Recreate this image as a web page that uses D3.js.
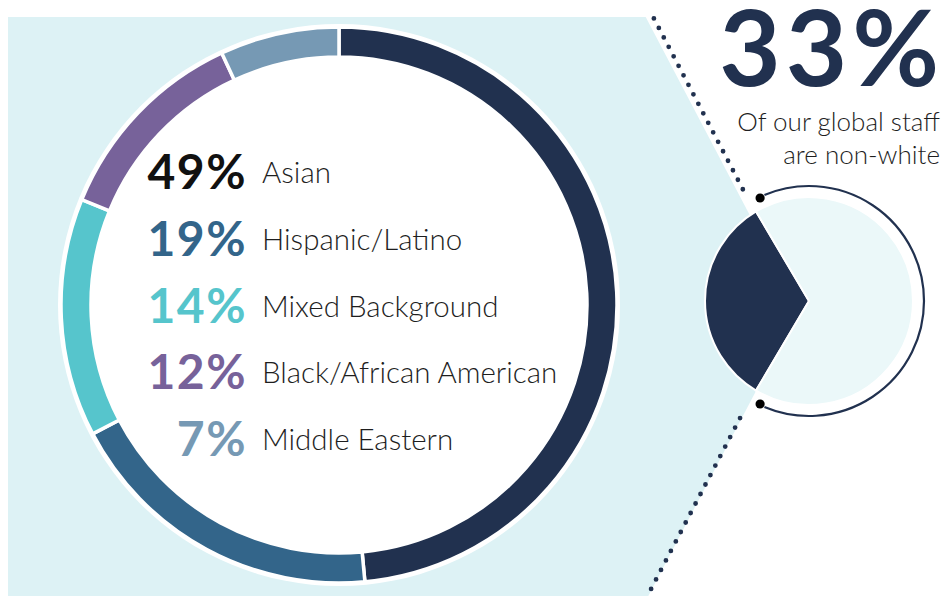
<!DOCTYPE html>
<html>
<head>
<meta charset="utf-8">
<script src="https://cdn.jsdelivr.net/npm/d3@7"></script>
<style>
  body { margin: 0; background: #fff; }
  svg { display: block; }
</style>
</head>
<body>
<svg id="chart" width="944" height="596"></svg>
<script>
// data
var groups = ["Asian", "Hispanic/Latino", "Mixed Background", "Black/African American", "Middle Eastern"];
var shares = [49, 19, 14, 12, 7];
var groupColors = ["#21314f", "#33658a", "#56c5cc", "#77629a", "#7699b4"];
var pctColors = ["#111111", "#33658a", "#56c5cc", "#77629a", "#7699b4"];

var staffParts = ["non-white", "other"];
var staffShares = [33, 67];
var staffColors = ["#21314f", "#ebf8f9"];
var captionLines = ["Of our global staff", "are non-white"];

var svg = d3.select("#chart");
var deg = Math.PI / 180;

// small pie (right)
var sx = 809, sy = 301, sr = 104;
var half = staffShares[0] / d3.sum(staffShares) * Math.PI; // half of the dark slice
var start = 1.5 * Math.PI - half;

// point on a ray, d3 angle convention (0 = up, clockwise)
function pt(cx, cy, a, r) { return [cx + r * Math.sin(a), cy - r * Math.cos(a)]; }

// light blue wedge behind the big donut
var tipX = sx - 10, tipY = sy + 8;
var aTop = 332.3 * deg, aBot = 207.7 * deg;
var topPt = pt(tipX, tipY, aTop, (tipY - 17) / Math.cos(aTop));
var botPt = pt(tipX, tipY, aBot, (tipY - 596) / Math.cos(aBot));
svg.append("path")
    .attr("d", d3.line()([[8, 17], topPt, [tipX, tipY], botPt, [8, 596]]) + "Z")
    .attr("fill", "#ddf2f5");

// dotted guide lines
var dx = sx - 8, dy = sy;
[[332.5, 126, 326], [207.5, 132, 330]].forEach(function (g) {
    var a = g[0] * deg;
    svg.append("path")
        .attr("d", d3.line()([pt(dx, dy, a, g[1]), pt(dx, dy, a, g[2])]))
        .attr("stroke", "#21314f")
        .attr("stroke-width", 4.8)
        .attr("stroke-linecap", "round")
        .attr("stroke-dasharray", "0 10.7")
        .attr("fill", "none");
});

// big donut
var cx = 339, cy = 305, outerR = 278, innerR = 248;
var g = svg.append("g").attr("transform", "translate(" + cx + "," + cy + ")");
g.append("circle").attr("r", outerR + 3).attr("fill", "#fff");

var pie = d3.pie().sort(null).value(function (d) { return d; });
var arc = d3.arc().innerRadius(innerR).outerRadius(outerR);

g.selectAll(".seg")
    .data(pie(shares)).enter().append("path")
    .attr("class", "seg")
    .attr("d", arc)
    .attr("fill", function (d, i) { return groupColors[i]; })
    .attr("stroke", "#fff")
    .attr("stroke-width", 3.5);

// legend rows inside the donut
var rowY = d3.scalePoint().domain(groups).range([183, 450]);
var rows = svg.append("g").selectAll(".row")
    .data(groups).enter().append("g")
    .attr("class", "row")
    .attr("transform", function (d) { return "translate(0," + rowY(d) + ")"; });

rows.append("text")
    .attr("x", 247).attr("y", 6)
    .attr("text-anchor", "end")
    .style("font", "bold 48px Lato, sans-serif")
    .style("letter-spacing", "1.5px")
    .attr("fill", function (d, i) { return pctColors[i]; })
    .text(function (d, i) { return shares[i] + "%"; });

rows.append("text")
    .attr("x", 262)
    .style("font", "300 29.5px Lato, sans-serif")
    .attr("fill", "#1e1e1e")
    .text(function (d) { return d; });

// small pie
var sg = svg.append("g").attr("transform", "translate(" + sx + "," + sy + ")");
var spie = d3.pie().sort(null).value(function (d) { return d; })
    .startAngle(start).endAngle(start + 2 * Math.PI);
var sarcs = spie(staffShares);
sg.selectAll(".sslice")
    .data(sarcs).enter().append("path")
    .attr("class", "sslice")
    .attr("d", d3.arc().innerRadius(0).outerRadius(sr))
    .attr("fill", function (d, i) { return staffColors[i]; })
    .attr("stroke", "#fff")
    .attr("stroke-width", 2);

// outline arc round the light part
var light = sarcs[1];
sg.append("path")
    .attr("d", d3.arc().innerRadius(115).outerRadius(115)
        .startAngle(light.startAngle + 7.8 * deg).endAngle(light.endAngle - 7.8 * deg)())
    .attr("fill", "none")
    .attr("stroke", "#21314f")
    .attr("stroke-width", 2.2);
[light.startAngle + 5.2 * deg, light.endAngle - 5.2 * deg].forEach(function (a) {
    var p = pt(0, 0, a, 114);
    sg.append("circle").attr("cx", p[0]).attr("cy", p[1]).attr("r", 4.6).attr("fill", "#000");
});

// headline
svg.append("text")
    .attr("x", 944).attr("y", 86)
    .attr("text-anchor", "end")
    .style("font", "bold 106px Lato, sans-serif")
    .style("letter-spacing", "5px")
    .attr("fill", "#21314f")
    .text(staffShares[0] + "%");

svg.append("g").selectAll("text")
    .data(captionLines).enter().append("text")
    .attr("x", 940)
    .attr("y", function (d, i) { return 131 + i * 33; })
    .attr("text-anchor", "end")
    .style("font", "300 26px Lato, sans-serif")
    .attr("fill", "#1e1e1e")
    .text(function (d) { return d; });
</script>
</body>
</html>
